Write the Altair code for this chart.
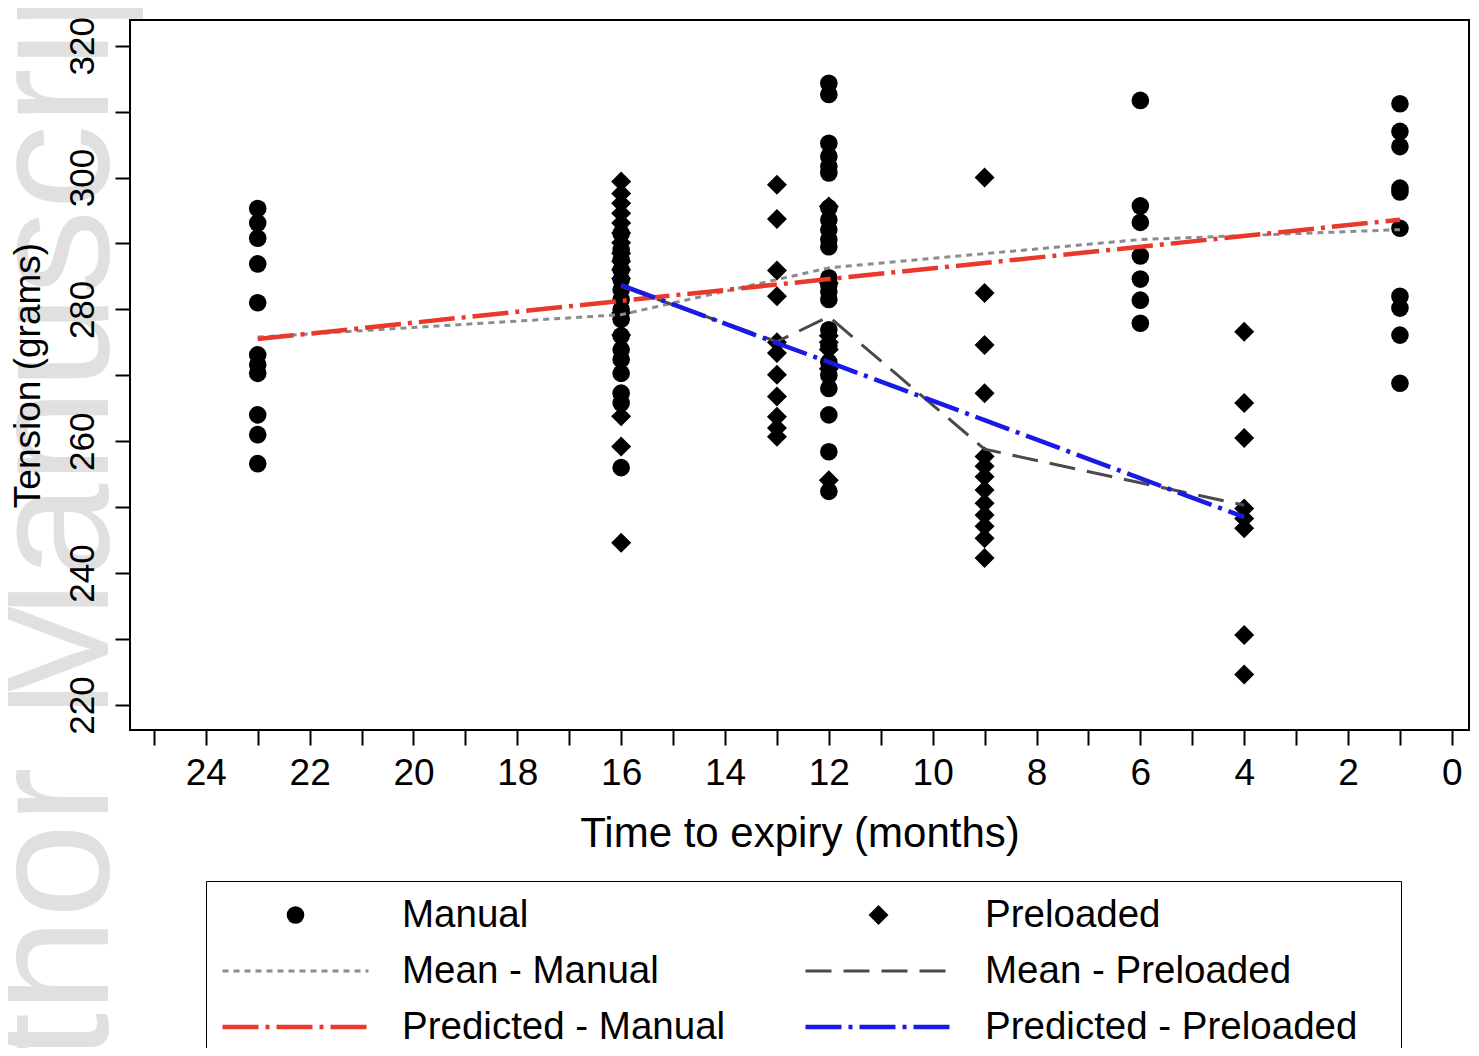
import altair as alt
import pandas as pd

SERIES = ["Manual", "Preloaded", "Mean - Manual", "Mean - Preloaded",
          "Predicted - Manual", "Predicted - Preloaded"]
COLORS = ["#000000", "#000000", "#8c8c8c", "#4a4a4a", "#e8392a", "#1a1ae6"]
SHAPES = ["circle", "diamond", "stroke", "stroke", "stroke", "stroke"]
SIZES = [310, 400, 21316, 21316, 21316, 21316]
DASHES = [[6, 5], [6, 5], [6, 5], [26, 12], [36, 7, 4, 7], [36, 7, 4, 7]]
WIDTHS = [0, 0, 3, 3, 4.5, 4.5]

# Manual points (time -> tension)
manual_23 = [295.3, 293.1, 290.8, 286.9, 281.0, 273.1, 271.6, 270.3, 264.0, 261.0, 256.6]
manual_16 = [291.5, 289.0, 287.5, 286.0, 284.5, 283.0, 281.5, 280.0, 278.5, 276.0,
             273.9, 272.4, 270.3, 267.3, 265.8, 256.0]
manual_12 = [314.3, 312.6, 305.2, 303.2, 301.7, 300.7, 295.4, 293.6, 292.1, 290.6,
             289.5, 284.8, 283.7, 282.7, 281.5, 276.9, 274.5, 272.0, 270.0, 268.0,
             264.0, 258.4, 252.4]
manual_6 = [311.7, 295.7, 293.2, 288.1, 284.6, 281.4, 277.9]
manual_1 = [311.2, 307.0, 304.7, 298.4, 297.8, 292.3, 282.0, 280.2, 276.1, 268.8]

# Preloaded points
preloaded_16 = [299.4, 297.6, 296.1, 294.6, 293.1, 291.6, 290.1, 288.5, 287.3, 286.0,
                284.7, 279.5, 276.1, 263.8, 259.2, 244.6]
preloaded_13 = [298.9, 293.7, 285.9, 282.0, 275.0, 273.4, 270.1, 266.8, 263.7, 262.0, 260.7]
preloaded_12 = [295.6, 284.0, 276.0, 275.0, 273.9, 271.0, 254.1]
preloaded_9 = [300.0, 282.5, 274.6, 267.3, 257.7, 256.2, 254.6, 252.6, 250.6, 248.8,
               247.1, 245.3, 242.3]
preloaded_4 = [276.6, 265.8, 260.5, 249.8, 248.3, 246.8, 230.6, 224.6]

# Lines
manual_times = [23, 16, 12, 6, 1]
preloaded_times = [16, 13, 12, 9, 4]
mean_manual = [275.8, 279.2, 286.3, 290.6, 292.1]
mean_preloaded = [283.5, 275.1, 278.9, 258.8, 250.3]
pred_manual = [275.5, 281.3, 284.6, 289.5, 293.6]
pred_preloaded = [283.7, 274.9, 272.0, 263.2, 248.5]

X_TICKS = list(range(0, 26))
Y_TICKS = list(range(220, 321, 10))

FONT = "Liberation Sans"

rows = []
for t, vals in [(23, manual_23), (16, manual_16), (12, manual_12), (6, manual_6), (1, manual_1)]:
    rows += [{"series": "Manual", "t": t, "v": v} for v in vals]
for t, vals in [(16, preloaded_16), (13, preloaded_13), (12, preloaded_12), (9, preloaded_9), (4, preloaded_4)]:
    rows += [{"series": "Preloaded", "t": t, "v": v} for v in vals]
pts = pd.DataFrame(rows)

lrows = []
for name, ts, ys in [("Mean - Manual", manual_times, mean_manual),
                     ("Mean - Preloaded", preloaded_times, mean_preloaded),
                     ("Predicted - Manual", manual_times, pred_manual),
                     ("Predicted - Preloaded", preloaded_times, pred_preloaded)]:
    lrows += [{"series": name, "t": t, "v": y} for t, y in zip(ts, ys)]
lns = pd.DataFrame(lrows)

xscale = alt.Scale(domain=[25.46, -0.33], nice=False, zero=False)
yscale = alt.Scale(domain=[216.2, 323.9], nice=False, zero=False)

xaxis = alt.Axis(values=X_TICKS, labelExpr="datum.value % 2 == 0 ? datum.label : ''",
                 tickSize=15, tickWidth=2, tickColor="black", domain=False, grid=False,
                 labelFont=FONT, labelFontSize=37, labelColor="black", labelPadding=10,
                 labelOverlap=False, title="Time to expiry (months)", titleFont=FONT,
                 titleFontSize=42, titleFontWeight="normal", titleColor="black",
                 titleY=103, titleBaseline="middle", zindex=1)
yaxis = alt.Axis(values=Y_TICKS, labelExpr="datum.value % 20 == 0 ? datum.label : ''",
                 tickSize=15, tickWidth=2, tickColor="black", domain=False, grid=False,
                 labelFont=FONT, labelFontSize=35, labelColor="black", labelPadding=15,
                 labelAngle=270, labelAlign="center", labelBaseline="bottom",
                 labelOverlap=False, title="Tension (grams)", titleFont=FONT,
                 titleFontSize=37, titleFontWeight="normal", titleColor="black",
                 titleAngle=270, titleX=-102, titleY=355, titleAlign="center",
                 titleBaseline="middle", zindex=1)

leg = alt.Legend(
    title=None, orient="none", legendX=76, legendY=861, columns=2,
    direction="horizontal",
    columnPadding=77, rowPadding=16, padding=14, strokeColor="black",
    labelFont=FONT, labelFontSize=38.5, labelColor="black", labelOffset=31,
    labelLimit=2000, clipHeight=40, labelBaseline="middle",
    labelExpr="datum.label + (datum.label == 'Predicted - Preloaded' ? '\u2800' : '')",
    symbolStrokeWidth=3.5, symbolOpacity=1,
)

wm = alt.Chart(pd.DataFrame({"w": ["Author Manuscript"]})).mark_text(
    angle=270, align="left", baseline="alphabetic", fontSize=170, font=FONT,
    color="#e0e0e0"
).encode(text="w:N", x=alt.value(-22), y=alt.value(1248))

points = alt.Chart(pts).mark_point(filled=True, opacity=1, strokeWidth=0).encode(
    x=alt.X("t:Q", scale=xscale, axis=xaxis),
    y=alt.Y("v:Q", scale=yscale, axis=yaxis),
    fill=alt.Fill("series:N", scale=alt.Scale(domain=SERIES, range=COLORS), legend=leg),
    shape=alt.Shape("series:N", scale=alt.Scale(domain=SERIES, range=SHAPES), legend=leg),
    size=alt.Size("series:N", scale=alt.Scale(type="ordinal", domain=SERIES, range=SIZES), legend=leg),
)

lines = alt.Chart(lns).mark_line().encode(
    x=alt.X("t:Q", scale=xscale, axis=xaxis),
    y=alt.Y("v:Q", scale=yscale, axis=yaxis),
    stroke=alt.Stroke("series:N", scale=alt.Scale(domain=SERIES, range=COLORS), legend=leg),
    strokeDash=alt.StrokeDash("series:N", scale=alt.Scale(domain=SERIES, range=DASHES), legend=leg),
    strokeWidth=alt.StrokeWidth("series:N", scale=alt.Scale(type="ordinal", domain=SERIES, range=WIDTHS), legend=None),
)

chart = alt.layer(wm, points, lines).properties(
    width=1339, height=710,
    autosize=alt.AutoSizeParams(type="none"),
    padding={"left": 122, "top": 12, "right": 2, "bottom": 318},
).configure_view(stroke="black", strokeWidth=2)

chart.save("out.html", embed_options={"renderer": "svg", "actions": False})
